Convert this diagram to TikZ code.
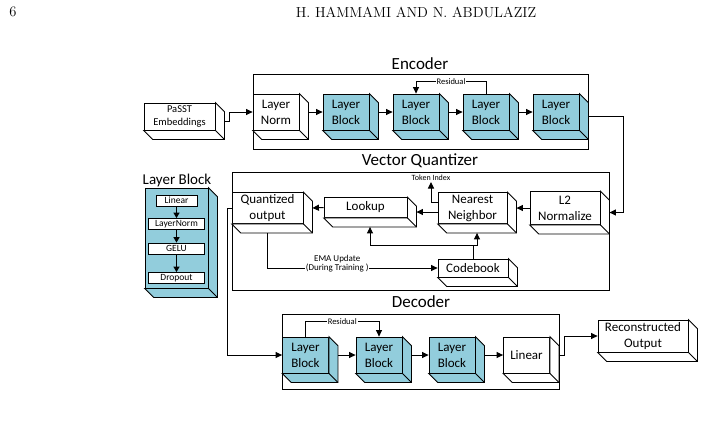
\documentclass[tikz,border=0pt]{standalone}
\usepackage{fontspec}
\newfontfamily\calfont{Carlito}
\usepackage{tikz}
\usetikzlibrary{arrows.meta, calc}
\definecolor{blockteal}{HTML}{92CDDC}
% depth of the 3D boxes
\newcommand{\cubedepth}{9}
% side and bottom faces of a 3D box, plus helper points
\newcommand{\cubefaces}[2]{%
  \draw[boxline, fill=#2] (#1.north east) -- ++(\cubedepth,\cubedepth)
    -- ([shift={(\cubedepth,\cubedepth)}]#1.south east)
    -- ([shift={(\cubedepth,\cubedepth)}]#1.south west)
    -- (#1.south west) -- (#1.south east) -- cycle;
  \draw[boxline] (#1.south east) -- ++(\cubedepth,\cubedepth);
  \coordinate (#1-r) at ([shift={(\cubedepth,0)}]#1.east);
  \coordinate (#1-e) at ([shift={(\cubedepth,\cubedepth/2)}]#1.east);
  \coordinate (#1-b) at ([shift={(0,\cubedepth)}]#1.south);
  \coordinate (#1-s) at ([shift={(\cubedepth/2,\cubedepth)}]#1.south);
}
\begin{document}
\begin{tikzpicture}[
    x=1pt, y=-1pt,
    boxline/.style={draw, line width=0.8pt},
    cube/.style={boxline, fill=#1, align=center, inner sep=1pt, font=\calfont\fontsize{13}{16}\selectfont},
    cube/.default=white,
    block/.style={cube=blockteal, minimum width=46pt, minimum height=36pt},
    container/.style={rectangle, draw, line width=0.8pt},
    title/.style={font=\calfont\fontsize{17}{20}\selectfont, inner sep=0pt},
    resid/.style={fill=white, inner sep=1pt, font=\calfont\fontsize{8.5}{10}\selectfont},
    ema/.style={fill=white, inner sep=0.5pt, align=center, yshift=4.5pt, font=\calfont\fontsize{9}{9.5}\selectfont},
    step box/.style={boxline, fill=white, minimum width=56pt, minimum height=11pt, inner sep=0pt, font=\calfont\fontsize{9.5}{10}\selectfont},
    arrow/.style={-{Triangle[length=6.5pt,width=6pt]}, line width=1pt},
    arrowsm/.style={-{Triangle[length=5.5pt,width=6pt]}, line width=1.2pt}
]
\useasboundingbox (0,0) rectangle (703,429);
% Page header
\node[font=\fontsize{14.5}{16}\selectfont, inner sep=0pt] (pgnum) at (13,12) {6};
\node[font=\fontsize{14.5}{16}\selectfont, inner sep=0pt] (header) at (416,12) {H. HAMMAMI AND N. ABDULAZIZ};
% Containers
\node[container, minimum width=335pt, minimum height=75pt] (enc) at (420.5,111.5) {};
\node[container, minimum width=377pt, minimum height=118pt] (vq) at (420.5,231) {};
\node[container, minimum width=277pt, minimum height=75pt] (dec) at (420.5,351.5) {};
\node[title] (enctitle) at (420,64) {Encoder};
\node[title] (vqtitle) at (420,161) {Vector Quantizer};
\node[title] (dectitle) at (421,302) {Decoder};
% Encoder
\node[cube, minimum width=71pt, minimum height=27pt, font=\calfont\fontsize{10.5}{12.5}\selectfont] (pa) at (179.5,116.5) {PaSST\\Embeddings};
\node[cube, minimum width=46pt, minimum height=36pt] (ln) at (276,112) {Layer\\Norm};
\node[block] (eb1) at (346,112) {Layer\\Block};
\node[block] (eb2) at (416,112) {Layer\\Block};
\node[block] (eb3) at (486,112) {Layer\\Block};
\node[block] (eb4) at (556,112) {Layer\\Block};
% Vector quantizer
\node[cube, minimum width=71pt, minimum height=31pt] (qo) at (267.5,208) {Quantized\\output};
\node[cube, minimum width=83pt, minimum height=20pt] (lu) at (365.5,207.5) {Lookup};
\node[cube, minimum width=69pt, minimum height=31pt] (nn) at (472.5,208) {Nearest\\Neighbor};
\node[cube, minimum width=70pt, minimum height=33pt] (l2) at (565,208) {L2\\Normalize};
\node[cube, minimum width=70pt, minimum height=18pt] (cb) at (473,268) {Codebook};
\node[inner sep=1pt, font=\calfont\fontsize{8}{9}\selectfont] (tok) at (431,178) {Token Index};
% Decoder
\node[block] (db1) at (305.5,355) {Layer\\Block};
\node[block] (db2) at (379,355) {Layer\\Block};
\node[block] (db3) at (452,355) {Layer\\Block};
\node[cube, minimum width=46pt, minimum height=36pt] (dlin) at (526.5,355) {Linear};
\node[cube, minimum width=90pt, minimum height=32pt] (ro) at (643,336) {Reconstructed\\Output};
% Layer block detail
\node[font=\calfont\fontsize{15}{18}\selectfont, inner sep=0pt] (lbtitle) at (177,180) {Layer Block};
\node[cube=blockteal, minimum width=63pt, minimum height=100pt] (lbk) at (176.5,238) {};
\node[step box, minimum width=41pt] (ilin) at (176.5,200.5) {Linear};
\node[step box] (inorm) at (176.5,224) {LayerNorm};
\node[step box] (igelu) at (176.5,248.5) {GELU};
\node[step box] (idrop) at (176.5,278) {Dropout};
% Box depth faces
\foreach \n/\c in {pa/white, ln/white, eb1/blockteal, eb2/blockteal, eb3/blockteal, eb4/blockteal,
    qo/white, lu/white, nn/white, l2/white, cb/white,
    db1/blockteal, db2/blockteal, db3/blockteal, dlin/white, ro/white, lbk/blockteal}
  \cubefaces{\n}{\c};
% Encoder arrows
\draw[arrow] (pa-e) -- ++(5,0) |- (ln.west);
\draw[arrow] (ln-r) -- (eb1.west);
\draw[arrow] (eb1-r) -- (eb2.west);
\draw[arrow] (eb2-r) -- (eb3.west);
\draw[arrow] (eb3-r) -- (eb4.west);
\draw[arrow] (eb3.north) -- ++(0,-12) -| node[pos=0.25, resid] {Residual} (eb2.north);
\draw[arrow] (eb4-e) -- ++(35,0) |- (l2-e);
% Vector quantizer arrows
\draw[arrow] (l2.west) -- (nn-r);
\draw[arrow] (nn.west |- lu-e) -- (lu-e);
\draw[arrow] (lu.west) -- (qo-r);
\draw[arrow] ([shift={(0,-5.5)}]nn.west) -| (tok.south);
\draw[line width=1pt] (cb.north) -- ++(0,-13) coordinate (cbjoin);
\draw[arrow] (cbjoin) -| (lu-s);
\draw[arrow] (cbjoin) -| (nn-s);
\draw[arrow] (qo-b) |- node[ema, pos=0.705] {EMA Update\\(During Training )} (cb.west);
% Decoder arrows
\draw[arrow] (qo.west) -- ++(-4,0) |- (db1.west);
\draw[arrow] (db1-r) -- (db2.west);
\draw[arrow] (db2-r) -- (db3.west);
\draw[arrow] (db3-r) -- (dlin.west);
\draw[arrow] (db1.north) -- ++(0,-15) -| node[pos=0.25, resid] {Residual} (db2.north);
\draw[arrow] (dlin-r) -- ++(6,0) |- (ro.west);
% Layer block steps
\draw[arrowsm] (ilin.south) -- (inorm.north);
\draw[arrowsm] (inorm.south) -- (igelu.north);
\draw[arrowsm] (igelu.south) -- (idrop.north);
\end{tikzpicture}
\end{document}
